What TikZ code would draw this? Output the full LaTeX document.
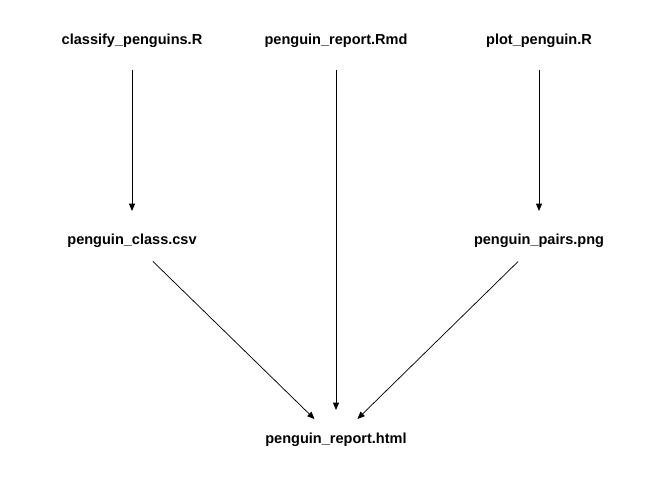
\documentclass[tikz,border=0pt]{standalone}
\usepackage{fontspec}
\setmainfont{Liberation Sans}
\usetikzlibrary{arrows.meta}
\begin{document}
\begin{tikzpicture}[x=0.75pt,y=-0.75pt,
  file/.style={draw=none,inner sep=0pt,
    font=\fontsize{10.9}{12}\selectfont\bfseries},
  dep/.style={-{Triangle[length=5.5pt,width=4.5pt]},line width=0.55pt,black,
    shorten <=22pt,shorten >=22.5pt}]
\useasboundingbox[fill=white] (0,0) rectangle (672,480);
\node[file] (cls) at (132,41) {classify\_penguins.R};
\node[file] (rmd) at (336,41) {penguin\_report.Rmd};
\node[file] (plt) at (539,41) {plot\_penguin.R};
\node[file] (csv) at (132,241) {penguin\_class.csv};
\node[file] (png) at (539,241) {penguin\_pairs.png};
\node[file] (html) at (336,440) {penguin\_report.html};
\draw[dep] (cls.center) -- (csv.center);
\draw[dep] (plt.center) -- (png.center);
\draw[dep] (rmd.center) -- (html.center);
\draw[dep] (csv.center) -- (html.center);
\draw[dep] (png.center) -- (html.center);
\end{tikzpicture}
\end{document}
